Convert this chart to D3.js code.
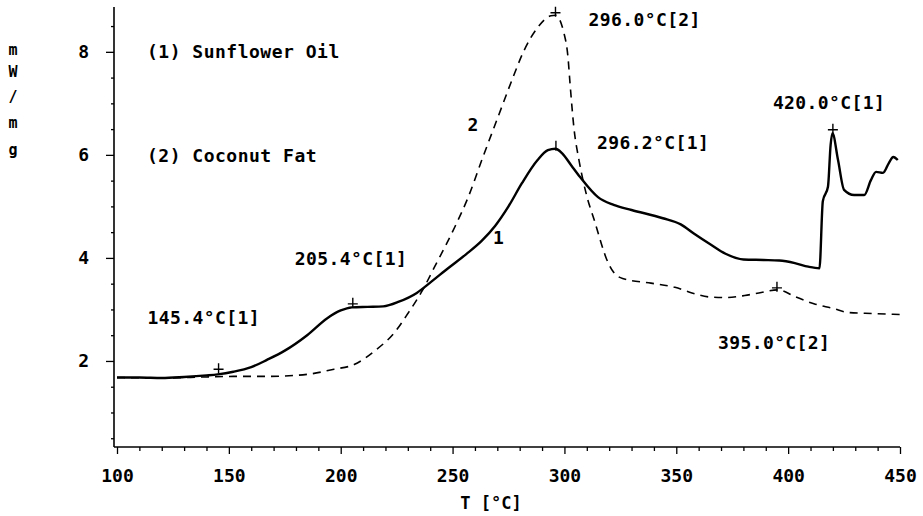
<!DOCTYPE html>
<html>
<head>
<meta charset="utf-8">
<script src="https://cdnjs.cloudflare.com/ajax/libs/d3/7.8.5/d3.min.js"></script>
<style>
  body { margin: 0; background: #fff; }
  svg text { font-family: "DejaVu Sans Mono", monospace; font-weight: bold; fill: #000; }
</style>
</head>
<body>
<div id="chart"></div>
<script>
// temperatures (°C) and heat flow (mW/mg)
const sunflowerT = [100, 110, 120, 130, 140, 145, 152, 160, 167, 175, 185, 194, 200, 205, 212, 219, 226, 234, 240, 248, 256, 263, 269, 275, 281, 288, 292.6, 296, 299, 303, 307, 315, 322, 330, 344, 352, 358, 365, 372, 380, 389, 396, 403, 409, 414, 415.5, 417.8, 419, 419.8, 422.3, 425, 429.5, 434, 437, 439.3, 442.4, 445, 447, 449];
const sunflowerV = [1.68, 1.68, 1.67, 1.69, 1.72, 1.74, 1.79, 1.88, 2.02, 2.2, 2.5, 2.83, 2.98, 3.04, 3.05, 3.06, 3.15, 3.32, 3.52, 3.8, 4.07, 4.33, 4.62, 5.0, 5.45, 5.9, 6.09, 6.12, 6.03, 5.8, 5.57, 5.18, 5.03, 4.93, 4.77, 4.65, 4.47, 4.27, 4.08, 3.97, 3.96, 3.95, 3.9, 3.83, 3.8, 5.1, 5.38, 6.2, 6.42, 5.9, 5.32, 5.22, 5.22, 5.51, 5.67, 5.65, 5.84, 5.96, 5.9];

const coconutT = [100, 120, 140, 152, 167, 185, 197, 206, 215, 224, 230, 236.4, 242, 251, 257, 263.5, 270, 276, 282, 288, 294, 296, 299.8, 301.6, 302.5, 304.3, 306.5, 310, 313.3, 319.5, 322, 326, 338.7, 349.4, 357, 365, 372, 380.6, 388, 395.5, 403, 411.5, 420, 427, 438, 450];
const coconutV = [1.68, 1.67, 1.69, 1.70, 1.70, 1.74, 1.84, 1.93, 2.19, 2.55, 2.92, 3.36, 3.83, 4.6, 5.18, 5.95, 6.7, 7.39, 8.03, 8.47, 8.70, 8.71, 8.36, 7.89, 7.39, 6.5, 5.9, 5.2, 4.74, 3.91, 3.72, 3.6, 3.51, 3.43, 3.32, 3.24, 3.23, 3.27, 3.33, 3.38, 3.25, 3.11, 3.02, 2.94, 2.92, 2.9];

// marked peaks
const peakT = [145.4, 205.4, 296.0, 296.2, 395.0, 420.0];
const peakV = [1.80, 3.07, 8.72, 6.12, 3.38, 6.45];
const peakLabels = ["145.4°C[1]", "205.4°C[1]", "296.0°C[2]", "296.2°C[1]", "395.0°C[2]", "420.0°C[1]"];

const legendLabels = ["(1) Sunflower Oil", "(2) Coconut Fat"];
const curveNames = ["1", "2"];
const curveNameT = [270.5, 259.1];
const curveNameV = [4.39, 6.58];

const xMajor = [100, 150, 200, 250, 300, 350, 400, 450];
const yMajor = [2, 4, 6, 8];

const width = 923, height = 516;

const svg = d3.select("#chart").append("svg")
  .attr("width", width)
  .attr("height", height);

svg.append("rect").attr("width", width).attr("height", height).attr("fill", "#fff");

const x = d3.scaleLinear().domain([100, 450]).range([117, 900]);
const y = d3.scaleLinear().domain([0.33, 8.87]).range([447, 7]);
const axisX = x(100) - 3;

// axis lines
svg.append("line")
  .attr("x1", axisX).attr("x2", axisX)
  .attr("y1", y.range()[0]).attr("y2", y.range()[1])
  .attr("stroke", "#000").attr("stroke-width", 1.6);
svg.append("line")
  .attr("x1", axisX).attr("x2", x(450))
  .attr("y1", y.range()[0]).attr("y2", y.range()[0])
  .attr("stroke", "#000").attr("stroke-width", 1.6);

// x axis
const gx = svg.append("g").attr("transform", `translate(0,${y.range()[0]})`);
gx.append("g")
  .call(d3.axisBottom(x).tickValues(d3.range(110, 450, 10).filter(v => v % 50 !== 0)).tickSize(4).tickFormat(""))
  .call(g => g.select(".domain").remove());
gx.append("g")
  .call(d3.axisBottom(x).tickValues(xMajor).tickSize(7).tickPadding(15).tickFormat(d3.format("d")))
  .call(g => g.select(".domain").remove())
  .call(g => g.selectAll("text").attr("font-size", 18).attr("font-family", null));
gx.selectAll("line").attr("stroke", "#000").attr("stroke-width", 1.3);

// y axis
const gy = svg.append("g").attr("transform", `translate(${axisX},0)`);
gy.append("g")
  .call(d3.axisLeft(y).tickValues(d3.range(0.5, 8.6, 0.5).filter(v => v % 2 !== 0)).tickSize(3).tickFormat(""))
  .call(g => g.select(".domain").remove());
gy.append("g")
  .call(d3.axisLeft(y).tickValues(yMajor).tickSize(8).tickPadding(17).tickFormat(d3.format("d")))
  .call(g => g.select(".domain").remove())
  .call(g => g.selectAll("text").attr("font-size", 18).attr("font-family", null));
gy.selectAll("line").attr("stroke", "#000").attr("stroke-width", 1.3);

// axis titles
svg.append("text")
  .attr("x", 491).attr("y", 503).attr("dy", "0.36em")
  .attr("text-anchor", "middle").attr("font-size", 17)
  .text("T [°C]");

const yTitle = ["m", "W", "/", "m", "g"];
const yTitleY = [50, 72, 97, 123, 150];
svg.selectAll(".ytitle").data(yTitle).enter().append("text")
  .attr("class", "ytitle")
  .attr("x", 13).attr("y", (d, i) => yTitleY[i]).attr("dy", "0.36em")
  .attr("text-anchor", "middle").attr("font-size", 15)
  .text(d => d);

// legend
const legendY = [52, 156];
svg.selectAll(".legend").data(legendLabels).enter().append("text")
  .attr("class", "legend")
  .attr("x", 147).attr("y", (d, i) => legendY[i]).attr("dy", "0.36em")
  .attr("font-size", 18).attr("letter-spacing", 0.5)
  .text(d => d);

// curves
const line = d3.line().x(d => x(d[0])).y(d => y(d[1])).curve(d3.curveMonotoneX);

svg.append("path")
  .datum(coconutT.map((t, i) => [t, coconutV[i]]))
  .attr("d", line)
  .attr("fill", "none").attr("stroke", "#000")
  .attr("stroke-width", 1.6).attr("stroke-dasharray", "8,6");

svg.append("path")
  .datum(sunflowerT.map((t, i) => [t, sunflowerV[i]]))
  .attr("d", line)
  .attr("fill", "none").attr("stroke", "#000")
  .attr("stroke-width", 2.4).attr("stroke-linejoin", "round");

// peak markers and labels
const labelDx = [-71, -58, 33, 41, -59, -60];
const labelDy = [-54, -47, 5, -6, 53, -29];

peakT.forEach((t, i) => {
  const px = x(t), py = y(peakV[i]);
  const s = i === 3 ? 0 : 5;
  svg.append("path")
    .attr("d", `M${px - s},${py - 2}H${px + s}M${px},${py - 8}V${py + 2}`)
    .attr("stroke", "#000").attr("stroke-width", 1.4).attr("fill", "none");
  svg.append("text")
    .attr("x", px + labelDx[i]).attr("y", py + labelDy[i]).attr("dy", "0.36em")
    .attr("font-size", 18).attr("letter-spacing", 0.4)
    .text(peakLabels[i]);
});

// curve numbers
svg.selectAll(".cname").data(curveNames).enter().append("text")
  .attr("class", "cname")
  .attr("x", (d, i) => x(curveNameT[i])).attr("y", (d, i) => y(curveNameV[i])).attr("dy", "0.36em")
  .attr("text-anchor", "middle").attr("font-size", 18)
  .text(d => d);
</script>
</body>
</html>
